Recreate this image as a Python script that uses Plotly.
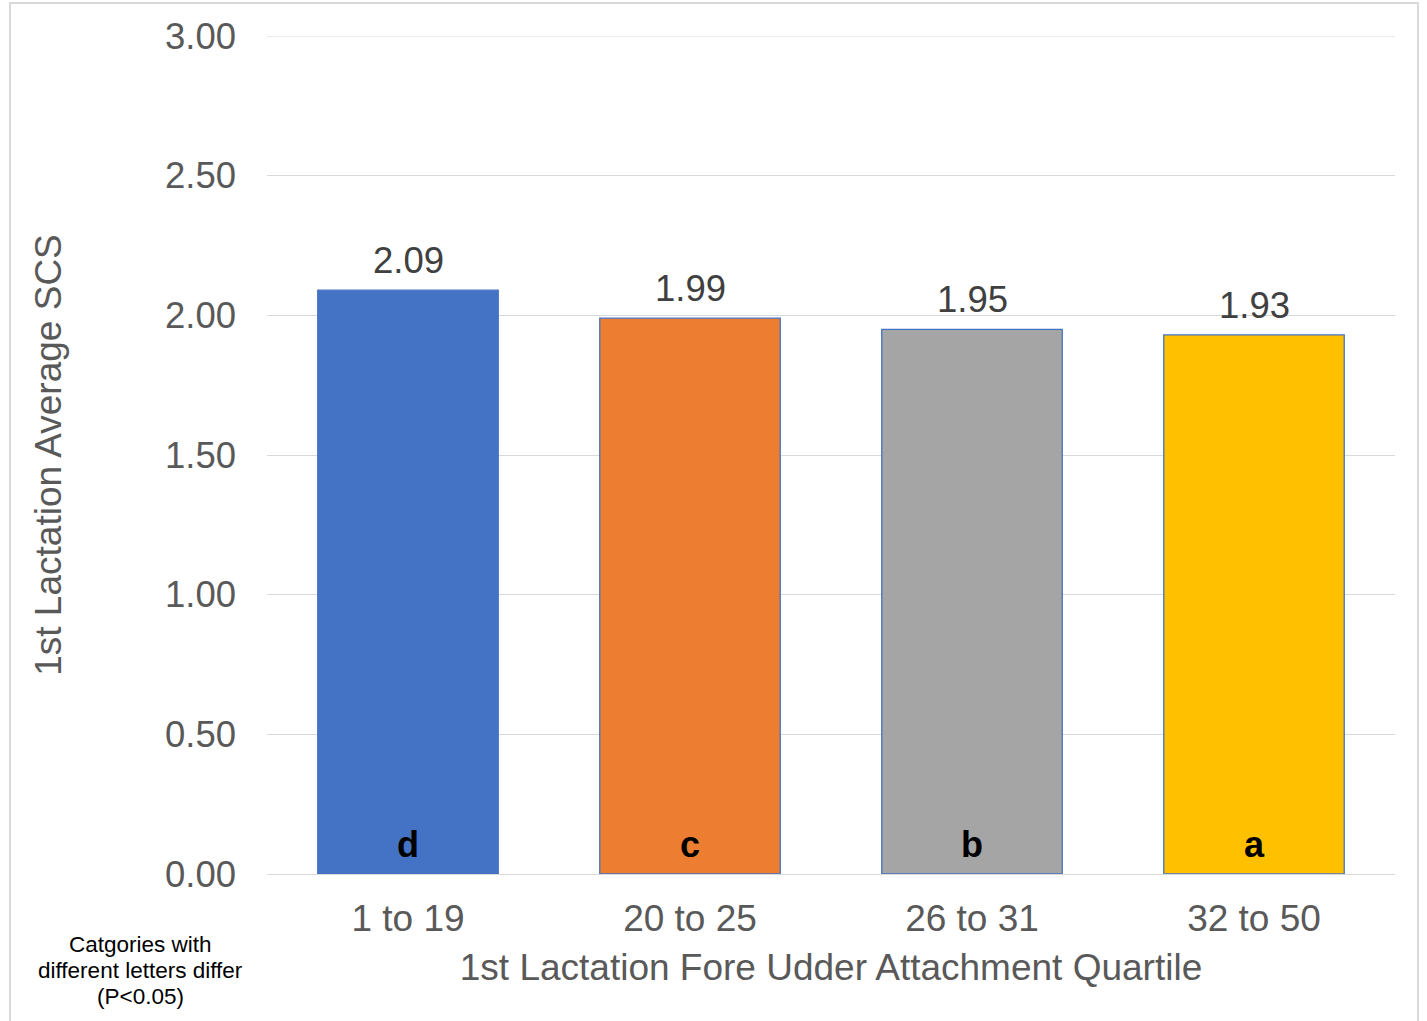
import plotly.graph_objects as go

categories = ["1 to 19", "20 to 25", "26 to 31", "32 to 50"]
values = [2.09, 1.99, 1.95, 1.93]
value_labels = ["2.09", "1.99", "1.95", "1.93"]
letters = ["d", "c", "b", "a"]
colors = ["#4472C4", "#ED7D31", "#A5A5A5", "#FFC000"]
y_ticks = [0, 0.5, 1.0, 1.5, 2.0, 2.5, 3.0]
y_tick_labels = ["0.00", "0.50", "1.00", "1.50", "2.00", "2.50", "3.00"]
note_lines = ["Catgories with", "different letters differ", "(P<0.05)"]

FONT = "Liberation Sans, Arial, sans-serif"

fig = go.Figure()
fig.add_trace(go.Bar(
    x=categories, y=values,
    marker=dict(color=colors, line=dict(color="#4472C4", width=1.3)),
    cliponaxis=False,
))

for c, v, t in zip(categories, values, value_labels):
    fig.add_annotation(x=c, y=v, xref="x", yref="y", text=t,
                       showarrow=False, yanchor="bottom", yshift=7,
                       font=dict(family=FONT, size=36.5, color="#404040"))

for c, l in zip(categories, letters):
    fig.add_annotation(x=c, y=0, xref="x", yref="y", text="<b>%s</b>" % l,
                       showarrow=False, yanchor="bottom", yshift=7,
                       font=dict(family=FONT, size=36, color="#000000"))

for i, line in enumerate(note_lines):
    fig.add_annotation(xref="paper", yref="paper", x=(140 - 267) / 1128,
                       y=(874 - (944 + 26 * i)) / 838,
                       text=line, showarrow=False, xanchor="center", yanchor="middle",
                       font=dict(family=FONT, size=22.5, color="#000000"))

fig.add_shape(type="rect", xref="paper", yref="paper",
              x0=(10 - 267) / 1128, x1=(1418 - 267) / 1128,
              y0=(874 - 1040) / 838, y1=(874 - 3) / 838,
              line=dict(color="#D9D9D9", width=2), fillcolor="rgba(0,0,0,0)", layer="below")

# top gridline at the range end
fig.add_shape(type="line", xref="paper", yref="y", x0=0, x1=1,
              y0=y_ticks[-1], y1=y_ticks[-1],
              line=dict(color="#D9D9D9", width=1), layer="below")

fig.update_layout(
    width=1427, height=1021,
    margin=dict(l=267, r=32, t=36, b=147),
    paper_bgcolor="white", plot_bgcolor="white",
    bargap=0.36,
    showlegend=False,
    font=dict(family=FONT, color="#595959"),
    xaxis=dict(
        tickfont=dict(family=FONT, size=37, color="#595959"),
        title=dict(text="1st Lactation Fore Udder Attachment Quartile",
                   font=dict(family=FONT, size=37, color="#595959"), standoff=15),
        showline=True, linecolor="#D9D9D9", linewidth=1,
        ticks="", ticklabelstandoff=12,
    ),
    yaxis=dict(
        range=[0, 3.0], tickvals=y_ticks, ticktext=y_tick_labels,
        tickfont=dict(family=FONT, size=36.5, color="#595959"),
        title=dict(text="1st Lactation Average SCS",
                   font=dict(family=FONT, size=37, color="#595959"), standoff=92),
        showgrid=True, gridcolor="#D9D9D9", gridwidth=1,
        zeroline=False, ticks="", ticklabelstandoff=30,
    ),
)

fig.write_html("out.html", config={"displayModeBar": False},
               post_script="document.body.style.margin='0';")
